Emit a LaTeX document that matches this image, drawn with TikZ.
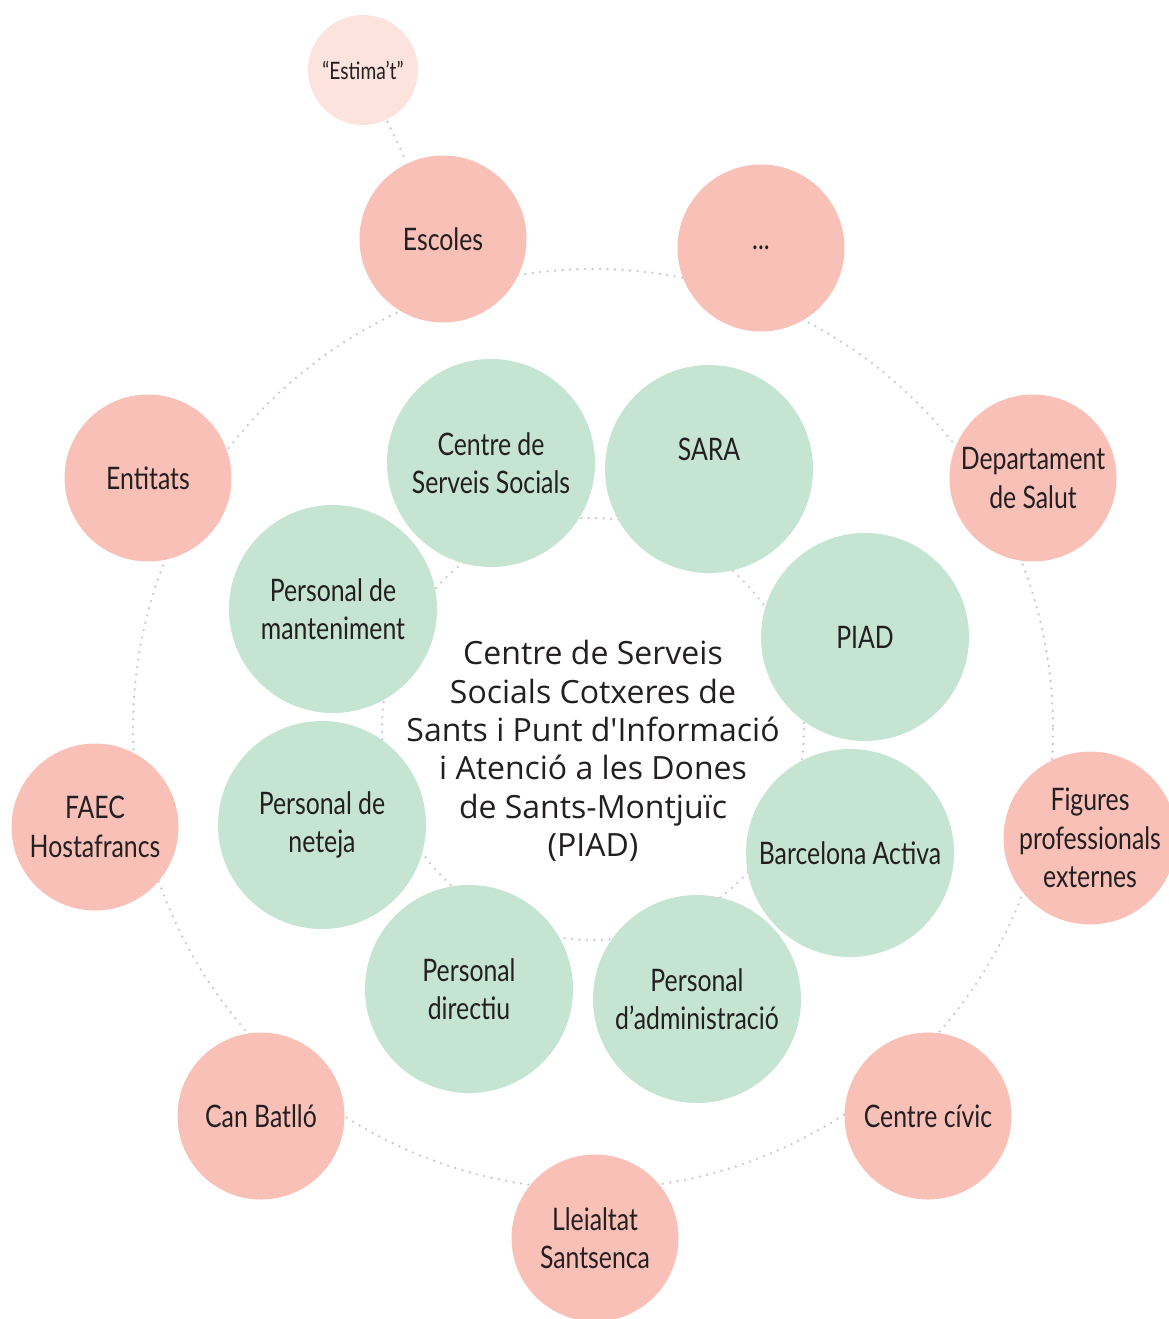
\documentclass[tikz,border=0pt]{standalone}
\usepackage{fontspec}
\newfontfamily\centerfont{Open Sans}
\newfontfamily\labelfont[FakeStretch=0.80]{Lato}
\usetikzlibrary{positioning}
\definecolor{PartnerColor}{HTML}{F9C0B8}
\definecolor{ProjectColor}{HTML}{FDE3DE}
\definecolor{StaffColor}{HTML}{C5E4D2}
\definecolor{RingColor}{HTML}{C9C9D0}
\definecolor{TextDark}{HTML}{231F20}

\begin{document}
\begin{tikzpicture}[
        x=1pt, y=-1pt,
        partner/.style={circle, fill=PartnerColor, minimum size=167pt, inner sep=0pt, align=center, font=\labelfont\fontsize{31}{38.5}\selectfont, text=TextDark},
        project/.style={partner, fill=ProjectColor, minimum size=110pt, font=\labelfont\fontsize{24}{28}\selectfont},
        staff/.style={partner, fill=StaffColor, minimum size=208pt},
        ring/.style={RingColor, line width=2.6pt, line cap=round, dash pattern=on 0pt off 7.5pt}
      ]
        \useasboundingbox (0,0) rectangle (1168,1319);
        \coordinate (hub) at (593,729);

        % dotted rings behind the circles
        \draw[ring] (hub) circle[radius=460];
        \draw[ring] (hub) circle[radius=211];

        % outer ring: partners
        \node[partner] (escoles) at (443,239) {Escoles};
        \node[partner] (more) at (761,248) {...};
        \node[partner] (salut) at (1033,478) {Departament\\de Salut};
        \node[partner] (figures) at (1090,838) {Figures\\professionals\\externes};
        \node[partner] (civic) at (928,1116) {Centre cívic};
        \node[partner] (lleialtat) at (595,1238) {Lleialtat\\Santsenca};
        \node[partner] (batllo) at (261,1116) {Can Batlló};
        \node[partner] (faec) at (95,827) {FAEC\\Hostafrancs};
        \node[partner] (entitats) at (148,478) {Entitats};
        \node[project] (estimat) at (363,70) {“Estima’t”};

        % inner ring: staff and services
        \node[staff] (css) at (491,463) {Centre de\\Serveis Socials};
        \node[staff] (sara) at (709,469) {SARA\\\mbox{}};
        \node[staff] (piad) at (865,637) {PIAD};
        \node[staff] (activa) at (850,853) {Barcelona Activa};
        \node[staff] (admin) at (697,999) {Personal\\d’administració};
        \node[staff] (directiu) at (469,989) {Personal\\directiu};
        \node[staff] (neteja) at (322,825) {Personal de\\neteja};
        \node[staff] (manteniment) at (333,609) {Personal de\\manteniment};

        \node[align=center, text=TextDark, font=\centerfont\fontsize{32}{38.4}\selectfont] (piadtitle) at (593,751) {Centre de Serveis\\Socials Cotxeres de\\Sants i Punt d'Informació\\i Atenció a les Dones\\de Sants-Montjuïc\\(PIAD)};

        \draw[ring, shorten <=2pt, shorten >=2pt] (estimat) -- (escoles);
      \end{tikzpicture}
\end{document}
